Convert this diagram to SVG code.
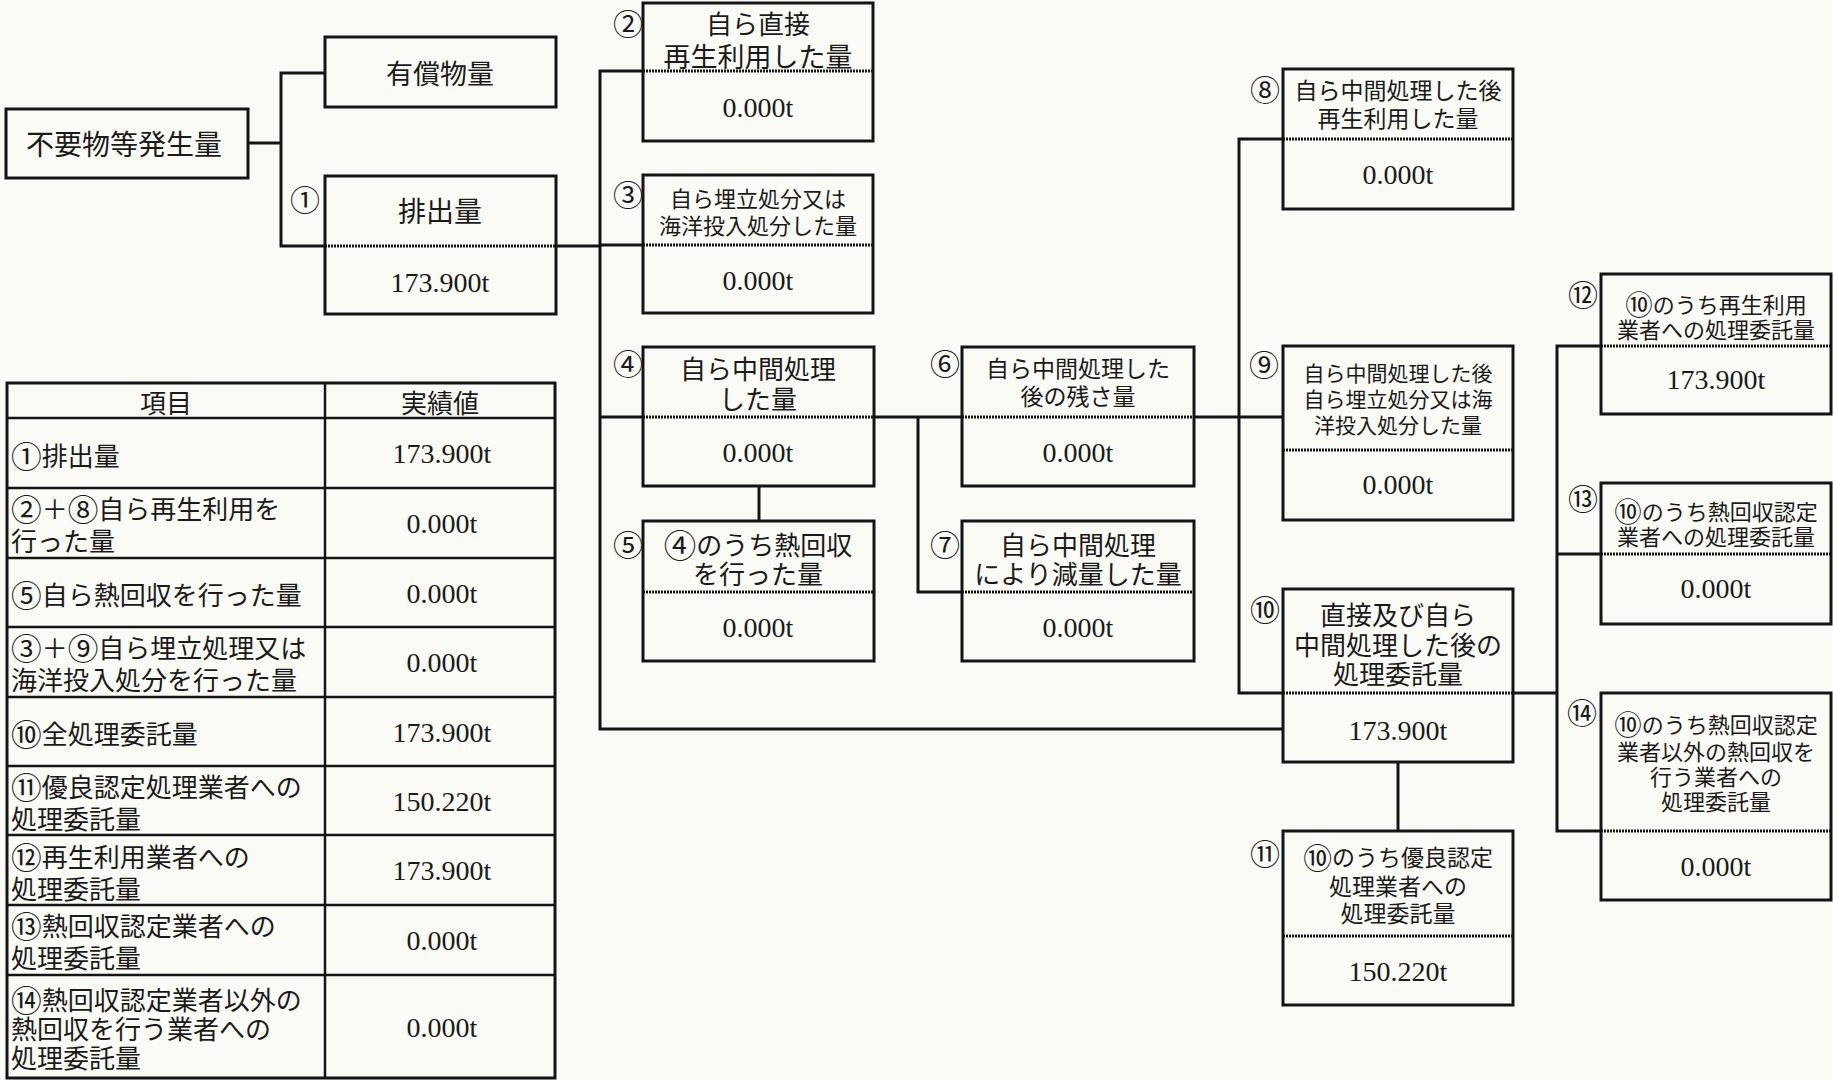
<svg xmlns="http://www.w3.org/2000/svg" width="1833" height="1081" viewBox="0 0 1833 1081">
<style>
.bg{fill:#fbfbf6}
.box{fill:none;stroke:#141414;stroke-width:3}
.dv{stroke:#141414;stroke-width:3;stroke-dasharray:2 1}
.ln{fill:none;stroke:#141414;stroke-width:3}
.tl{stroke:#141414;stroke-width:2.5}
text{fill:#1a1a1a;dominant-baseline:central}
.j{font-family:"Noto Sans CJK JP",sans-serif;text-anchor:middle}
.v{font-family:"Liberation Serif",serif;font-size:28px;text-anchor:middle}
.lb{font-family:"Noto Sans CJK JP",sans-serif;font-size:30px;text-anchor:middle}
.tj{font-family:"Noto Sans CJK JP",sans-serif;font-size:26px}
.tv{font-family:"Liberation Serif",serif;font-size:28px;text-anchor:middle}
.c{font-size:1.25em}
.tc{font-size:1.18em}
</style>
<rect class="bg" x="0" y="0" width="1833" height="1081"/>

<g id="connectors">
<path class="ln" d="M248 143H281M325 73H281V246H325"/>
<path class="ln" d="M556 246H600M643 71H600V729H1283M600 245H643M600 417H643"/>
<path class="ln" d="M759 486V521"/>
<path class="ln" d="M874 417H962M918 417V592H962"/>
<path class="ln" d="M1194 417H1283M1283 139H1239V693H1283"/>
<path class="ln" d="M1398 762V831"/>
<path class="ln" d="M1513 693H1557M1601 346H1557V831H1601M1557 554H1601"/>
</g>

<g id="n-hassei">
<rect class="box" x="6" y="109" width="242" height="69"/>
<text class="j" x="124" y="143" font-size="28">不要物等発生量</text>
</g>
<g id="n-yusho">
<rect class="box" x="325" y="37" width="231" height="70"/>
<text class="j" x="440" y="72" font-size="27">有償物量</text>
</g>
<g id="n1">
<rect class="box" x="325" y="176" width="231" height="138"/>
<line class="dv" x1="325" y1="246" x2="556" y2="246"/>
<text class="lb" x="305" y="198">①</text>
<text class="j" x="440" y="210" font-size="28">排出量</text>
<text class="v" x="440" y="282">173.900t</text>
</g>
<g id="n2">
<rect class="box" x="643" y="3" width="230" height="138"/>
<line class="dv" x1="643" y1="71" x2="873" y2="71"/>
<text class="lb" x="628" y="22">②</text>
<text class="j" x="758" y="22" font-size="26">自ら直接</text>
<text class="j" x="758" y="55" font-size="27">再生利用した量</text>
<text class="v" x="758" y="107">0.000t</text>
</g>
<g id="n3">
<rect class="box" x="643" y="175" width="230" height="138"/>
<line class="dv" x1="643" y1="245" x2="873" y2="245"/>
<text class="lb" x="628" y="193">③</text>
<text class="j" x="758" y="197" font-size="22">自ら埋立処分又は</text>
<text class="j" x="758" y="224" font-size="22">海洋投入処分した量</text>
<text class="v" x="758" y="280">0.000t</text>
</g>
<g id="n4">
<rect class="box" x="643" y="347" width="231" height="139"/>
<line class="dv" x1="643" y1="417" x2="874" y2="417"/>
<text class="lb" x="628" y="362">④</text>
<text class="j" x="758" y="367" font-size="26">自ら中間処理</text>
<text class="j" x="758" y="397" font-size="26">した量</text>
<text class="v" x="758" y="452">0.000t</text>
</g>
<g id="n5">
<rect class="box" x="643" y="521" width="231" height="140"/>
<line class="dv" x1="643" y1="592" x2="874" y2="592"/>
<text class="lb" x="628" y="543">⑤</text>
<text class="j" x="758" y="543" font-size="26"><tspan class="c">④</tspan>のうち熱回収</text>
<text class="j" x="758" y="572" font-size="26">を行った量</text>
<text class="v" x="758" y="627">0.000t</text>
</g>
<g id="n6">
<rect class="box" x="962" y="347" width="232" height="139"/>
<line class="dv" x1="962" y1="417" x2="1194" y2="417"/>
<text class="lb" x="945" y="362">⑥</text>
<text class="j" x="1078" y="367" font-size="23">自ら中間処理した</text>
<text class="j" x="1078" y="395" font-size="23">後の残さ量</text>
<text class="v" x="1078" y="452">0.000t</text>
</g>
<g id="n7">
<rect class="box" x="962" y="521" width="232" height="140"/>
<line class="dv" x1="962" y1="592" x2="1194" y2="592"/>
<text class="lb" x="945" y="543">⑦</text>
<text class="j" x="1078" y="543" font-size="26">自ら中間処理</text>
<text class="j" x="1078" y="572" font-size="26">により減量した量</text>
<text class="v" x="1078" y="627">0.000t</text>
</g>
<g id="n8">
<rect class="box" x="1283" y="69" width="230" height="140"/>
<line class="dv" x1="1283" y1="139" x2="1513" y2="139"/>
<text class="lb" x="1265" y="88">⑧</text>
<text class="j" x="1398" y="89" font-size="23">自ら中間処理した後</text>
<text class="j" x="1398" y="117" font-size="23">再生利用した量</text>
<text class="v" x="1398" y="174">0.000t</text>
</g>
<g id="n9">
<rect class="box" x="1283" y="346" width="230" height="174"/>
<line class="dv" x1="1283" y1="450" x2="1513" y2="450"/>
<text class="lb" x="1264" y="363">⑨</text>
<text class="j" x="1398" y="372" font-size="21">自ら中間処理した後</text>
<text class="j" x="1398" y="398" font-size="21">自ら埋立処分又は海</text>
<text class="j" x="1398" y="424" font-size="21">洋投入処分した量</text>
<text class="v" x="1398" y="484">0.000t</text>
</g>
<g id="n10">
<rect class="box" x="1283" y="589" width="230" height="173"/>
<line class="dv" x1="1283" y1="693" x2="1513" y2="693"/>
<text class="lb" x="1265" y="608">⑩</text>
<text class="j" x="1398" y="613" font-size="26">直接及び自ら</text>
<text class="j" x="1398" y="643" font-size="26">中間処理した後の</text>
<text class="j" x="1398" y="672" font-size="26">処理委託量</text>
<text class="v" x="1398" y="730">173.900t</text>
</g>
<g id="n11">
<rect class="box" x="1283" y="831" width="230" height="174"/>
<line class="dv" x1="1283" y1="936" x2="1513" y2="936"/>
<text class="lb" x="1265" y="852">⑪</text>
<text class="j" x="1398" y="856" font-size="23"><tspan class="c">⑩</tspan>のうち優良認定</text>
<text class="j" x="1398" y="885" font-size="23">処理業者への</text>
<text class="j" x="1398" y="912" font-size="23">処理委託量</text>
<text class="v" x="1398" y="971">150.220t</text>
</g>
<g id="n12">
<rect class="box" x="1601" y="274" width="230" height="140"/>
<line class="dv" x1="1601" y1="346" x2="1831" y2="346"/>
<text class="lb" x="1583" y="293">⑫</text>
<text class="j" x="1716" y="303" font-size="22"><tspan class="c">⑩</tspan>のうち再生利用</text>
<text class="j" x="1716" y="328" font-size="22">業者への処理委託量</text>
<text class="v" x="1716" y="379">173.900t</text>
</g>
<g id="n13">
<rect class="box" x="1601" y="483" width="230" height="141"/>
<line class="dv" x1="1601" y1="554" x2="1831" y2="554"/>
<text class="lb" x="1583" y="497">⑬</text>
<text class="j" x="1716" y="510" font-size="22"><tspan class="c">⑩</tspan>のうち熱回収認定</text>
<text class="j" x="1716" y="535" font-size="22">業者への処理委託量</text>
<text class="v" x="1716" y="588">0.000t</text>
</g>
<g id="n14">
<rect class="box" x="1601" y="693" width="230" height="207"/>
<line class="dv" x1="1601" y1="831" x2="1831" y2="831"/>
<text class="lb" x="1582" y="711">⑭</text>
<text class="j" x="1716" y="723" font-size="22"><tspan class="c">⑩</tspan>のうち熱回収認定</text>
<text class="j" x="1716" y="750" font-size="22">業者以外の熱回収を</text>
<text class="j" x="1716" y="775" font-size="22">行う業者への</text>
<text class="j" x="1716" y="800" font-size="22">処理委託量</text>
<text class="v" x="1716" y="866">0.000t</text>
</g>

<g id="table">
<rect class="box" x="7" y="383" width="548" height="695"/>
<line class="tl" x1="325" y1="383" x2="325" y2="1078"/>
<line class="tl" x1="7" y1="418" x2="555" y2="418"/>
<line class="tl" x1="7" y1="488" x2="555" y2="488"/>
<line class="tl" x1="7" y1="558" x2="555" y2="558"/>
<line class="tl" x1="7" y1="627" x2="555" y2="627"/>
<line class="tl" x1="7" y1="697" x2="555" y2="697"/>
<line class="tl" x1="7" y1="766" x2="555" y2="766"/>
<line class="tl" x1="7" y1="835" x2="555" y2="835"/>
<line class="tl" x1="7" y1="905" x2="555" y2="905"/>
<line class="tl" x1="7" y1="975" x2="555" y2="975"/>
<text class="tj" x="166" y="401" font-size="24" text-anchor="middle">項目</text>
<text class="tj" x="440" y="401" font-size="24" text-anchor="middle">実績値</text>
<text class="tj" x="11" y="454"><tspan class="tc">①</tspan>排出量</text>
<text class="tj" x="11" y="507"><tspan class="tc">②</tspan>＋<tspan class="tc">⑧</tspan>自ら再生利用を</text>
<text class="tj" x="11" y="539">行った量</text>
<text class="tj" x="11" y="593"><tspan class="tc">⑤</tspan>自ら熱回収を行った量</text>
<text class="tj" x="11" y="646" font-size="26"><tspan class="tc">③</tspan>＋<tspan class="tc">⑨</tspan>自ら埋立処理又は</text>
<text class="tj" x="11" y="678" font-size="27">海洋投入処分を行った量</text>
<text class="tj" x="11" y="732"><tspan class="tc">⑩</tspan>全処理委託量</text>
<text class="tj" x="11" y="785"><tspan class="tc">⑪</tspan>優良認定処理業者への</text>
<text class="tj" x="11" y="817">処理委託量</text>
<text class="tj" x="11" y="855"><tspan class="tc">⑫</tspan>再生利用業者への</text>
<text class="tj" x="11" y="887">処理委託量</text>
<text class="tj" x="11" y="924"><tspan class="tc">⑬</tspan>熱回収認定業者への</text>
<text class="tj" x="11" y="956">処理委託量</text>
<text class="tj" x="11" y="998" font-size="25"><tspan class="tc">⑭</tspan>熱回収認定業者以外の</text>
<text class="tj" x="11" y="1027" font-size="25">熱回収を行う業者への</text>
<text class="tj" x="11" y="1056" font-size="25">処理委託量</text>
<text class="tv" x="442" y="453">173.900t</text>
<text class="tv" x="442" y="523">0.000t</text>
<text class="tv" x="442" y="593">0.000t</text>
<text class="tv" x="442" y="662">0.000t</text>
<text class="tv" x="442" y="732">173.900t</text>
<text class="tv" x="442" y="801">150.220t</text>
<text class="tv" x="442" y="870">173.900t</text>
<text class="tv" x="442" y="940">0.000t</text>
<text class="tv" x="442" y="1027">0.000t</text>
</g>
</svg>
